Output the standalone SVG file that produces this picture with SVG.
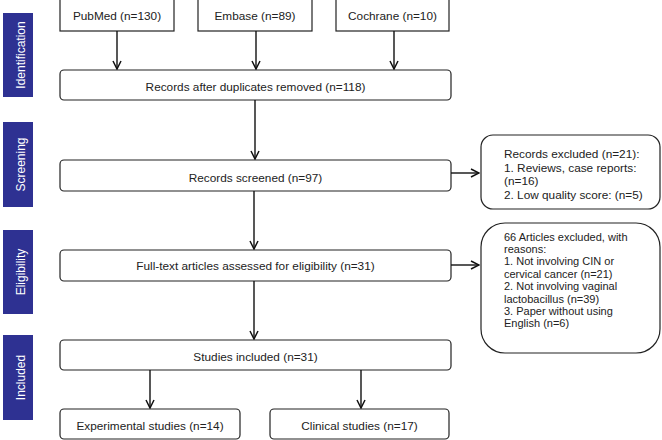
<svg xmlns="http://www.w3.org/2000/svg" width="662" height="440" viewBox="0 0 662 440">
<style>
.box{fill:#fff;stroke:#222;stroke-width:1.2}
.t{font-family:"Liberation Sans",Arial,sans-serif;font-size:11.8px;fill:#222}
.s{font-size:11px}
.c{text-anchor:middle}
.side{fill:#2e3192}
.st{font-family:"Liberation Sans",Arial,sans-serif;font-size:12px;fill:#fff;text-anchor:middle}
.ln{stroke:#111;stroke-width:1.4;fill:none}
</style>
<defs>
<marker id="ah" viewBox="0 0 10 10" refX="9" refY="5" markerWidth="10" markerHeight="10" markerUnits="userSpaceOnUse" orient="auto">
<path d="M1,1 L9,5 L1,9" fill="none" stroke="#111" stroke-width="1.5"/>
</marker>
</defs>
<g id="side-identification"><rect class="side" x="3" y="13" width="30" height="84"/><text class="st" transform="translate(25,55) rotate(-90)">Identification</text></g>
<g id="side-screening"><rect class="side" x="3" y="122" width="30" height="85"/><text class="st" transform="translate(25,164.5) rotate(-90)">Screening</text></g>
<g id="side-eligibility"><rect class="side" x="3" y="230" width="30" height="84"/><text class="st" transform="translate(25,272) rotate(-90)">Eligibility</text></g>
<g id="side-included"><rect class="side" x="3" y="335" width="30" height="85"/><text class="st" transform="translate(25,377.5) rotate(-90)">Included</text></g>

<g id="pubmed"><rect class="box" x="60" y="-1" width="114" height="32"/><text class="t c" x="117" y="20">PubMed (n=130)</text></g>
<g id="embase"><rect class="box" x="198" y="-1" width="114" height="32"/><text class="t c" x="255" y="20">Embase (n=89)</text></g>
<g id="cochrane"><rect class="box" x="336" y="-1" width="113" height="32"/><text class="t c" x="392.5" y="20">Cochrane (n=10)</text></g>
<g id="dedup"><rect class="box" x="60" y="70" width="391" height="30" rx="4"/><text class="t c" x="255.5" y="91">Records after duplicates removed (n=118)</text></g>
<g id="screened"><rect class="box" x="60" y="160" width="391" height="31" rx="4"/><text class="t c" x="255.5" y="181.5">Records screened (n=97)</text></g>
<g id="excluded1"><rect class="box" x="481" y="135" width="179" height="74" rx="12"/>
<text class="t" x="504" y="158">Records excluded (n=21):</text>
<text class="t" x="504" y="171.5">1. Reviews, case reports:</text>
<text class="t" x="504" y="185">(n=16)</text>
<text class="t" x="504" y="198.5">2. Low quality score: (n=5)</text></g>
<g id="fulltext"><rect class="box" x="60" y="250" width="391" height="31" rx="4"/><text class="t c" x="255.5" y="270">Full-text articles assessed for eligibility (n=31)</text></g>
<g id="excluded2"><rect class="box" x="481" y="223" width="179" height="130" rx="24"/>
<text class="t s" x="504" y="240.5">66 Articles excluded, with</text>
<text class="t s" x="504" y="252.9">reasons:</text>
<text class="t s" x="504" y="265.3">1. Not involving CIN or</text>
<text class="t s" x="504" y="277.7">cervical cancer (n=21)</text>
<text class="t s" x="504" y="290.1">2. Not involving vaginal</text>
<text class="t s" x="504" y="302.5">lactobacillus (n=39)</text>
<text class="t s" x="504" y="314.9">3. Paper without using</text>
<text class="t s" x="504" y="327.3">English (n=6)</text></g>
<g id="included"><rect class="box" x="60" y="340" width="391" height="30" rx="4"/><text class="t c" x="255.5" y="361">Studies included (n=31)</text></g>
<g id="experimental"><rect class="box" x="60" y="409" width="180" height="30" rx="4"/><text class="t c" x="150" y="430">Experimental studies (n=14)</text></g>
<g id="clinical"><rect class="box" x="270" y="409" width="179" height="30" rx="4"/><text class="t c" x="359.5" y="430">Clinical studies (n=17)</text></g>

<g id="connectors">
<line class="ln" x1="117" y1="31" x2="117" y2="69" marker-end="url(#ah)"/>
<line class="ln" x1="256" y1="31" x2="256" y2="69" marker-end="url(#ah)"/>
<line class="ln" x1="394" y1="31" x2="394" y2="69" marker-end="url(#ah)"/>
<line class="ln" x1="255" y1="100" x2="255" y2="159" marker-end="url(#ah)"/>
<line class="ln" x1="451" y1="173" x2="479" y2="173" marker-end="url(#ah)"/>
<line class="ln" x1="254" y1="191" x2="254" y2="249" marker-end="url(#ah)"/>
<line class="ln" x1="451" y1="265" x2="479" y2="265" marker-end="url(#ah)"/>
<line class="ln" x1="254" y1="281" x2="254" y2="339" marker-end="url(#ah)"/>
<line class="ln" x1="150" y1="370" x2="150" y2="408" marker-end="url(#ah)"/>
<line class="ln" x1="361" y1="370" x2="361" y2="408" marker-end="url(#ah)"/>
</g>
</svg>
